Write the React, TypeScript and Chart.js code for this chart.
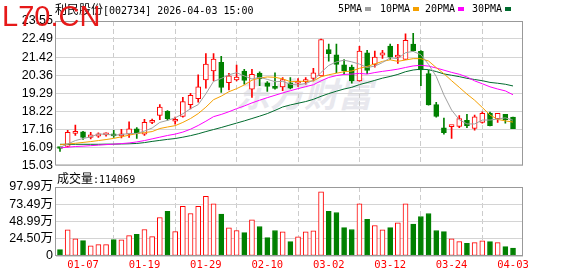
import React, { useEffect, useRef } from 'react';
import { Chart, registerables } from 'chart.js';

Chart.register(...registerables);

// ---------- data ----------
const dateLabels = ['01-07', '01-19', '01-29', '02-10', '03-02', '03-12', '03-24', '04-03'];
const dateLabelIndex = [3, 11, 19, 27, 35, 43, 51, 59];
const priceTicks = [15.03, 16.09, 17.16, 18.22, 19.29, 20.36, 21.42, 22.49, 23.55];
const volumeTicks = [0, 24.4975, 48.995, 73.4925, 97.99];
const volumeTickLabels = ['0', '24.50万', '48.99万', '73.49万', '97.99万'];

const opens = [
  16.08, 16.15, 16.92, 17.01, 16.68, 16.76, 16.84, 16.90, 16.78, 16.88,
  17.19, 16.88, 17.57, 17.98, 18.22, 17.64, 17.92, 18.62, 18.97, 20.08,
  20.60, 21.11, 19.92, 20.08, 20.60, 19.53, 20.48, 19.90, 19.63, 19.67,
  19.90, 19.88, 19.98, 20.17, 20.31, 21.86, 21.55, 20.97, 20.83, 20.02,
  21.67, 20.99, 21.53, 22.07, 21.42, 21.28, 22.19, 21.76, 20.45, 18.62,
  17.25, 17.32, 17.34, 17.69, 17.22, 17.57, 18.12, 17.79, 18.04, 17.88,
];
const closes = [
  16.03, 16.99, 17.05, 16.68, 16.84, 16.90, 16.90, 16.78, 16.82, 17.19,
  16.92, 17.57, 17.69, 18.47, 17.79, 17.67, 18.80, 19.17, 19.67, 21.01,
  21.30, 19.63, 20.31, 20.25, 20.04, 20.41, 20.15, 19.69, 19.58, 20.10,
  19.59, 19.96, 20.10, 20.50, 22.46, 21.63, 20.99, 20.62, 20.02, 21.77,
  20.64, 21.42, 21.67, 21.42, 21.50, 22.41, 21.80, 20.66, 18.60, 17.92,
  16.97, 17.36, 17.79, 17.38, 17.90, 18.10, 17.38, 18.10, 17.73, 17.20,
];
const highs = [
  16.10, 17.11, 17.42, 17.05, 16.99, 16.95, 16.95, 17.11, 17.17, 17.61,
  17.27, 17.75, 17.77, 18.62, 18.27, 17.89, 19.05, 19.28, 20.37, 21.63,
  21.63, 21.47, 20.47, 20.95, 20.70, 20.70, 20.56, 19.98, 20.50, 20.21,
  20.21, 20.15, 20.21, 20.76, 22.48, 22.19, 22.19, 21.28, 20.95, 22.06,
  21.82, 21.77, 21.82, 22.19, 22.17, 22.79, 22.83, 21.80, 20.64, 18.76,
  17.82, 17.37, 17.98, 18.04, 18.00, 18.20, 18.18, 18.10, 18.04, 17.88,
];
const lows = [
  15.86, 16.12, 16.80, 16.57, 16.60, 16.68, 16.76, 16.68, 16.65, 16.68,
  16.62, 16.80, 17.50, 17.73, 17.70, 17.46, 17.88, 18.37, 18.76, 19.59,
  20.02, 19.34, 19.48, 20.02, 19.83, 19.05, 19.73, 19.40, 19.53, 19.44,
  19.55, 19.69, 19.83, 20.02, 20.29, 21.18, 20.50, 20.41, 19.88, 20.00,
  20.45, 20.83, 21.34, 21.28, 21.05, 21.28, 21.76, 19.73, 18.58, 17.88,
  16.88, 16.62, 17.26, 17.26, 17.11, 17.53, 17.36, 17.57, 17.53, 17.20,
];
// volume, in 万
const volumes = [
  9.0, 37.1, 24.3, 21.9, 14.3, 16.2, 16.2, 23.3, 22.8, 29.0,
  30.9, 37.6, 27.6, 54.7, 63.3, 34.7, 70.4, 60.4, 70.4, 84.7,
  74.2, 59.5, 40.0, 36.2, 33.3, 51.4, 41.9, 26.2, 36.2, 34.3,
  20.5, 27.1, 34.3, 35.7, 91.3, 63.3, 61.8, 40.4, 37.6, 74.2,
  51.9, 43.3, 37.1, 40.4, 47.1, 74.2, 45.2, 56.1, 60.4, 36.2,
  34.7, 24.3, 20.5, 18.1, 19.0, 21.4, 20.5, 19.0, 13.3, 11.41,
];
const ma5 = [
  16.10, 16.30, 16.50, 16.62, 16.72, 16.89, 16.87, 16.82, 16.85, 16.92,
  16.92, 17.06, 17.24, 17.57, 17.69, 17.84, 18.08, 18.38, 18.62, 19.26,
  19.99, 20.16, 20.38, 20.50, 20.31, 20.13, 20.23, 20.11, 19.97, 19.99,
  19.82, 19.78, 19.87, 20.05, 20.52, 20.93, 21.14, 21.24, 21.14, 21.01,
  20.81, 20.89, 21.10, 21.38, 21.33, 21.68, 21.76, 21.56, 20.99, 20.28,
  19.19, 18.30, 17.73, 17.48, 17.48, 17.71, 17.71, 17.77, 17.84, 17.70,
];
const ma10 = [
  16.25, 16.30, 16.34, 16.39, 16.44, 16.50, 16.56, 16.63, 16.72, 16.82,
  16.91, 16.97, 17.03, 17.21, 17.30, 17.38, 17.57, 17.80, 18.09, 18.47,
  18.91, 19.12, 19.38, 19.56, 19.78, 20.06, 20.19, 20.25, 20.23, 20.14,
  19.97, 20.00, 19.99, 20.02, 20.26, 20.38, 20.47, 20.56, 20.60, 20.76,
  20.87, 21.02, 21.17, 21.26, 21.17, 21.25, 21.33, 21.33, 21.19, 20.80,
  20.44, 20.03, 19.64, 19.24, 18.88, 18.45, 18.01, 17.75, 17.66, 17.59,
];
const ma20 = [
  16.07, 16.11, 16.15, 16.17, 16.20, 16.23, 16.26, 16.29, 16.32, 16.36,
  16.42, 16.50, 16.60, 16.70, 16.80, 16.88, 17.00, 17.17, 17.39, 17.64,
  17.91, 18.04, 18.20, 18.38, 18.54, 18.72, 18.88, 19.03, 19.17, 19.31,
  19.44, 19.56, 19.68, 19.79, 20.02, 20.22, 20.33, 20.40, 20.42, 20.46,
  20.42, 20.51, 20.58, 20.64, 20.71, 20.81, 20.90, 20.94, 20.89, 20.78,
  20.65, 20.52, 20.41, 20.25, 20.02, 19.85, 19.67, 19.54, 19.43, 19.20,
];
const ma30 = [
  16.28, 16.28, 16.28, 16.28, 16.28, 16.28, 16.29, 16.29, 16.30, 16.31,
  16.33, 16.38, 16.45, 16.51, 16.57, 16.62, 16.70, 16.79, 16.90, 17.03,
  17.15, 17.27, 17.40, 17.53, 17.66, 17.80, 17.94, 18.09, 18.28, 18.48,
  18.60, 18.70, 18.80, 18.93, 19.11, 19.27, 19.41, 19.54, 19.64, 19.80,
  19.92, 20.05, 20.18, 20.28, 20.40, 20.56, 20.66, 20.71, 20.68, 20.57,
  20.43, 20.35, 20.27, 20.17, 20.10, 20.03, 19.93, 19.88, 19.82, 19.72,
];

// ---------- style ----------
const RED = '#ff0000';
const GREEN = '#008000';
const XMIN = -0.52;
const XMAX = 60.3;
const MONO = "'DejaVu Sans Mono', monospace";
const CJK = "'Noto Sans CJK SC', sans-serif";
const NUMFONT = "'Liberation Sans', 'Noto Sans CJK SC', sans-serif";

const framePlugin = {
  id: 'frame',
  afterDraw(chart: any) {
    const { ctx, chartArea: a } = chart;
    ctx.save();
    ctx.strokeStyle = '#999999';
    ctx.lineWidth = 1;
    ctx.strokeRect(a.left - 0.5, a.top + 0.5, a.right - a.left, a.bottom - a.top - 1);
    ctx.restore();
  },
};

function xScale(showLabels: boolean) {
  return {
    type: 'linear',
    min: XMIN,
    max: XMAX,
    offset: false,
    afterBuildTicks: (s: any) => {
      s.ticks = dateLabelIndex.map((v) => ({ value: v }));
    },
    afterFit: (s: any) => {
      s.height = showLabels ? 20 : 0;
    },
    ticks: {
      display: showLabels,
      autoSkip: false,
      maxRotation: 0,
      padding: 3,
      color: RED,
      font: { family: MONO, size: 10.5 },
      callback: (v: number) => {
        const k = dateLabelIndex.indexOf(v);
        return k >= 0 ? dateLabels[k] : '';
      },
    },
    grid: { color: '#cccccc', drawTicks: false, lineWidth: 1 },
    border: { display: false, dash: [5, 3] },
  };
}

export default function App() {
  const mainRef = useRef<HTMLCanvasElement>(null);
  const volRef = useRef<HTMLCanvasElement>(null);

  useEffect(() => {
    const idx = closes.map((_, i) => i);
    const up = idx.map((i) => closes[i] >= opens[i]);
    const lineColor = up.map((u) => (u ? RED : GREEN));
    const fillColor = up.map((u) => (u ? '#ffffff' : GREEN));

    const maDataset = (label: string, arr: number[], color: string) => ({
      type: 'line',
      label,
      data: arr.map((v, i) => ({ x: i, y: v })),
      borderColor: color,
      borderWidth: 1,
      pointRadius: 0,
      tension: 0,
      order: 0,
    });

    const main = new Chart(mainRef.current!, {
      type: 'bar',
      data: {
        datasets: [
          maDataset('5PMA', ma5, '#a0a0a0'),
          maDataset('10PMA', ma10, '#f5a000'),
          maDataset('20PMA', ma20, '#ff00ff'),
          maDataset('30PMA', ma30, '#006b2e'),
          {
            type: 'bar',
            label: 'body',
            data: idx.map((i) => ({ x: i, y: [opens[i], closes[i]] })),
            backgroundColor: fillColor,
            borderColor: lineColor,
            borderWidth: 1,
            borderSkipped: false,
            barThickness: 5,
            minBarLength: 2,
            grouped: false,
            order: 1,
          },
          {
            type: 'bar',
            label: 'wick',
            data: idx.map((i) => ({ x: i, y: [lows[i], highs[i]] })),
            backgroundColor: lineColor,
            borderWidth: 0,
            barThickness: 1,
            grouped: false,
            order: 2,
          },
        ],
      } as any,
      options: {
        responsive: false,
        animation: false,
        events: [],
        layout: { padding: { left: 0, right: 55, top: 21, bottom: 10 } },
        plugins: { legend: { display: false }, tooltip: { enabled: false } },
        scales: {
          x: xScale(false),
          y: {
            type: 'linear',
            min: priceTicks[0],
            max: priceTicks[priceTicks.length - 1],
            afterBuildTicks: (s: any) => {
              s.ticks = priceTicks.map((v) => ({ value: v }));
            },
            afterFit: (s: any) => {
              s.width = 56;
            },
            ticks: {
              autoSkip: false,
              padding: 3,
              color: '#000000',
              font: { family: NUMFONT, size: 12.5 },
              callback: (v: number) => v.toFixed(2),
            },
            grid: { color: '#d4d4d4', drawTicks: false },
            border: { display: false },
          },
        },
      } as any,
      plugins: [framePlugin],
    });

    const vol = new Chart(volRef.current!, {
      type: 'bar',
      data: {
        datasets: [
          {
            label: '成交量',
            data: idx.map((i) => ({ x: i, y: volumes[i] })),
            backgroundColor: fillColor,
            borderColor: lineColor,
            borderWidth: 1,
            borderSkipped: false,
            barThickness: 5,
            grouped: false,
          },
        ],
      } as any,
      options: {
        responsive: false,
        animation: false,
        events: [],
        layout: { padding: { left: 0, right: 55, top: 11, bottom: 0 } },
        plugins: { legend: { display: false }, tooltip: { enabled: false } },
        scales: {
          x: xScale(true),
          y: {
            type: 'linear',
            min: 0,
            max: volumeTicks[volumeTicks.length - 1],
            afterBuildTicks: (s: any) => {
              s.ticks = volumeTicks.map((v) => ({ value: v }));
            },
            afterFit: (s: any) => {
              s.width = 56;
            },
            ticks: {
              autoSkip: false,
              padding: 3,
              color: '#000000',
              font: { family: NUMFONT, size: 12.5 },
              callback: (_v: number, i: number) => volumeTickLabels[i],
            },
            grid: { color: '#d4d4d4', drawTicks: false },
            border: { display: false },
          },
        },
      } as any,
      plugins: [framePlugin],
    });

    return () => {
      main.destroy();
      vol.destroy();
    };
  }, []);

  const abs = (o: any) => ({ position: 'absolute', ...o });
  const legendItems = [
    { t: '5PMA', x: 338, bx: 365, c: '#a0a0a0' },
    { t: '10PMA', x: 380, bx: 413, c: '#f5a000' },
    { t: '20PMA', x: 425, bx: 458, c: '#ff00ff' },
    { t: '30PMA', x: 472, bx: 505, c: '#006b2e' },
  ];

  return (
    <div style={abs({ left: 0, top: 0, width: 578, height: 276, background: '#ffffff', overflow: 'hidden' })}>
      <div
        style={abs({
          left: 236,
          top: 76,
          fontFamily: CJK,
          fontWeight: 700,
          fontSize: 34,
          lineHeight: '34px',
          color: '#e8e8ee',
          whiteSpace: 'nowrap',
          fontStyle: 'italic',
        })}
      >
        东方财富
      </div>
      <canvas ref={mainRef} width={578} height={176} style={abs({ left: 0, top: 0, width: 578, height: 176 })} />
      <canvas ref={volRef} width={578} height={100} style={abs({ left: 0, top: 176, width: 578, height: 100 })} />

      <div style={abs({ left: 55, top: 2, fontFamily: MONO, fontSize: 10, lineHeight: '14px', color: '#000', whiteSpace: 'nowrap' })}>
        <span style={{ fontFamily: CJK, fontSize: 12 }}>利民股份</span>
        [002734] 2026-04-03 15:00
      </div>

      {legendItems.map((it) => (
        <React.Fragment key={it.t}>
          <div style={abs({ left: it.x, top: 2, fontFamily: MONO, fontSize: 10, lineHeight: '14px', color: '#000', whiteSpace: 'nowrap' })}>
            {it.t}
          </div>
          <div style={abs({ left: it.bx, top: 7, width: 6, height: 4, background: it.c })} />
        </React.Fragment>
      ))}

      <div style={abs({ left: 57, top: 171, fontFamily: MONO, fontSize: 10, lineHeight: '14px', color: '#000', whiteSpace: 'nowrap' })}>
        <span style={{ fontFamily: CJK, fontSize: 12 }}>成交量</span>:114069
      </div>

      <div
        style={abs({
          left: 2,
          top: 1,
          fontFamily: "'Liberation Sans', Arial, sans-serif",
          fontSize: 29,
          lineHeight: '30px',
          color: '#e61919',
          whiteSpace: 'nowrap',
        })}
      >
        L70.CN
      </div>
    </div>
  );
}
